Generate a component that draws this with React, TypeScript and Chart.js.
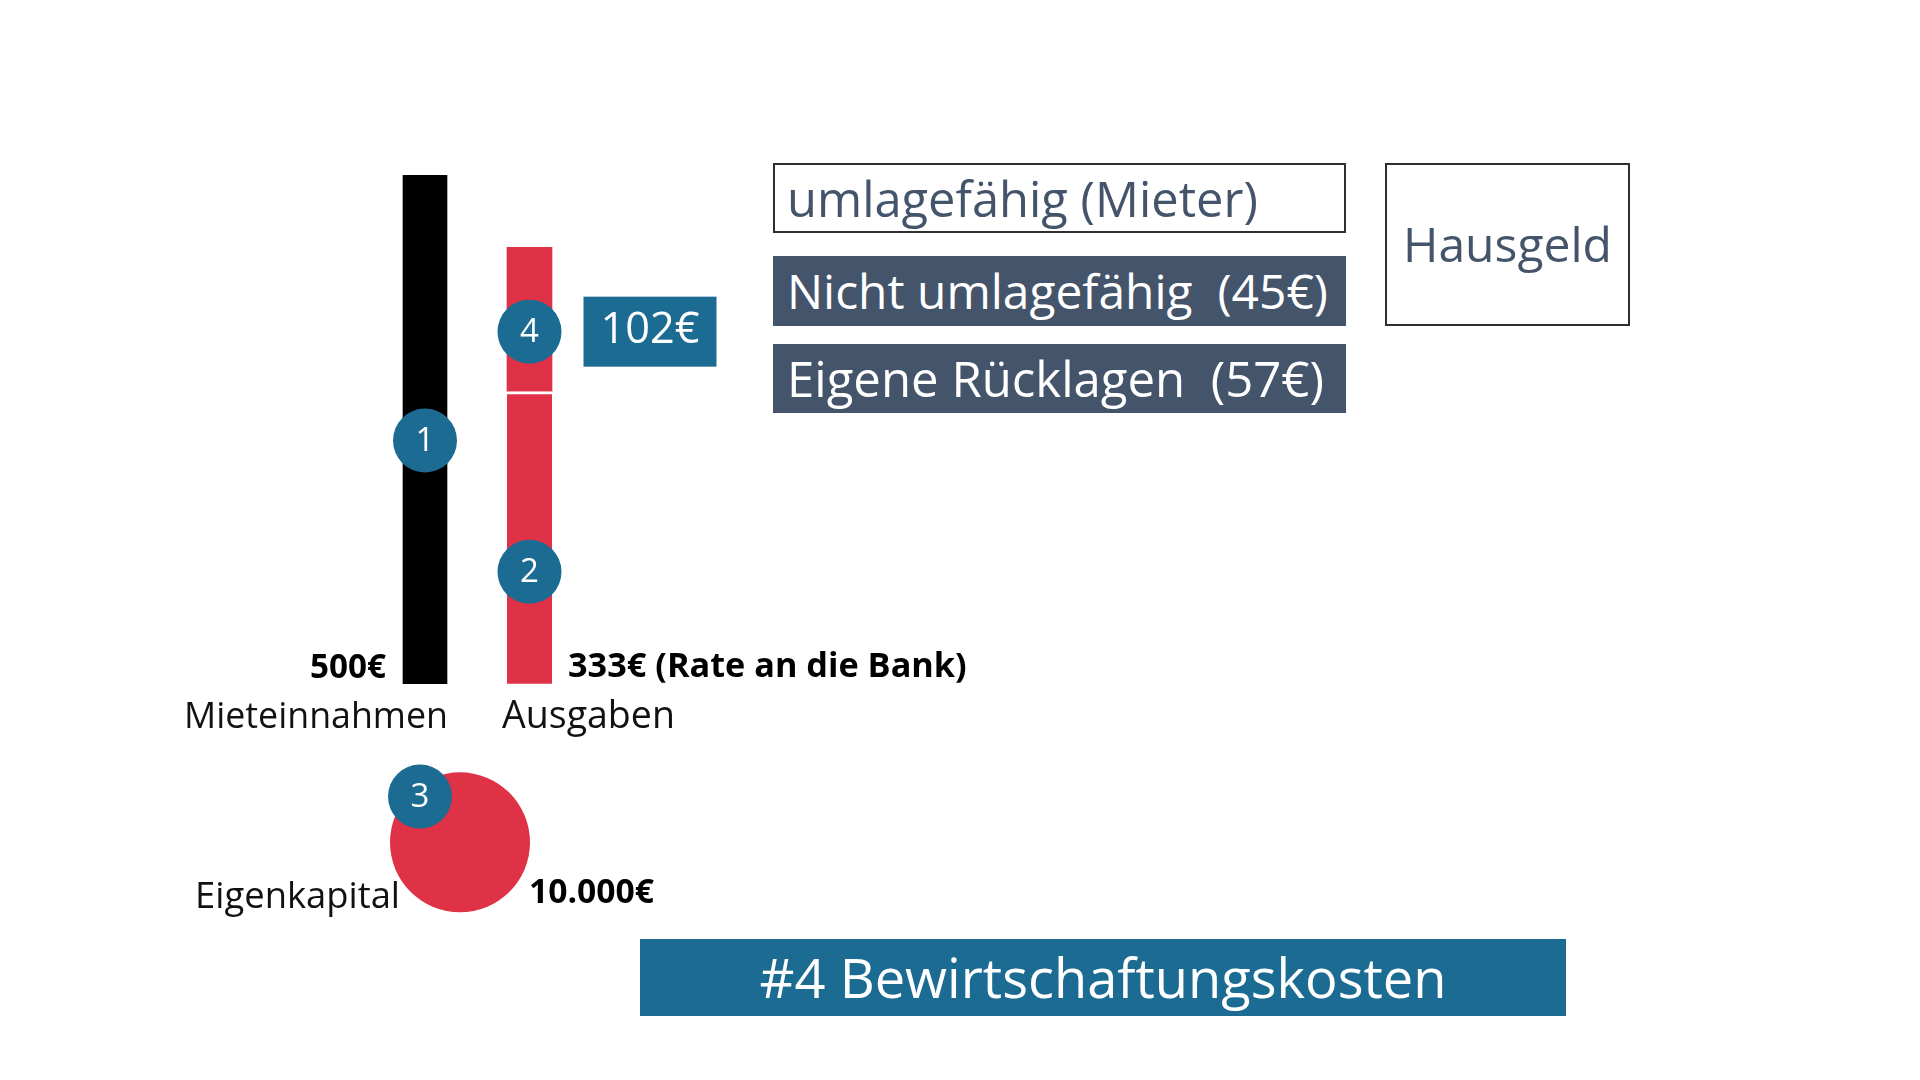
import React, { useEffect, useRef } from "react";
import { Chart, registerables } from "chart.js";

Chart.register(...registerables);

// ---------- data ----------
const categories = ["Mieteinnahmen", "Ausgaben"];
const categoryX = [1, 2];
const incomeValues = [500];
const expenseRateValues = [287];
const expenseHausgeldValues = [142];
const incomeLabel = "500€";
const expenseLabel = "333€ (Rate an die Bank)";
const hausgeldValueLabel = "102€";
const equityLabel = "Eigenkapital";
const equityValueLabel = "10.000€";
const equityPoints = [{ x: 1.335, y: -156 }];
const markerNumbers = ["1", "2", "3", "4"];
const markerPoints = [
  { x: 1, y: 239 },
  { x: 2, y: 110 },
  { x: 0.952, y: -111 },
  { x: 2, y: 346 },
];
const hausgeldItems = ["umlagefähig (Mieter)", "Nicht umlagefähig  (45€)", "Eigene Rücklagen  (57€)"];
const hausgeldTitle = "Hausgeld";
const slideTitle = "#4 Bewirtschaftungskosten";

// ---------- styles ----------
const FONT = '"Open Sans", sans-serif';
const RED = "#df3246";
const BLUE = "#1c6b93";
const SLATE = "#44546a";

let measureCtx: CanvasRenderingContext2D | null = null;
function fitSize(text: string, weight: number, target: number): number {
  if (!measureCtx) measureCtx = document.createElement("canvas").getContext("2d");
  const ctx = measureCtx!;
  ctx.font = `${weight} 100px ${FONT}`;
  const w = ctx.measureText(text).width;
  return (100 * target) / w;
}

function drawFit(
  ctx: CanvasRenderingContext2D,
  text: string,
  x: number,
  y: number,
  target: number,
  weight: number,
  align: CanvasTextAlign,
  color: string
) {
  const size = fitSize(text, weight, target);
  ctx.font = `${weight} ${size}px ${FONT}`;
  ctx.fillStyle = color;
  ctx.textAlign = align;
  ctx.textBaseline = "middle";
  ctx.fillText(text, x, y);
}

const labelPlugin = {
  id: "slideLabels",
  afterDatasetsDraw(chart: any) {
    const ctx: CanvasRenderingContext2D = chart.ctx;
    ctx.save();
    const markerMeta = chart.getDatasetMeta(0);
    const equityMeta = chart.getDatasetMeta(1);
    const incomeBar = chart.getDatasetMeta(2).data[0];
    const rateBar = chart.getDatasetMeta(3).data[0];

    // marker numbers
    markerMeta.data.forEach((pt: any, i: number) => {
      ctx.font = `400 33px ${FONT}`;
      ctx.fillStyle = "#ffffff";
      ctx.textAlign = "center";
      ctx.textBaseline = "middle";
      ctx.fillText(markerNumbers[i], pt.x, pt.y + 1);
    });

    // bar value labels
    const incLeft = incomeBar.x - incomeBar.width / 2;
    const incRight = incomeBar.x + incomeBar.width / 2;
    const rateLeft = rateBar.x - rateBar.width / 2;
    const rateRight = rateBar.x + rateBar.width / 2;
    drawFit(ctx, incomeLabel, incLeft - 17, incomeBar.base - 15, 76, 700, "right", "#000");
    drawFit(ctx, expenseLabel, rateRight + 16, rateBar.base - 16, 399, 700, "left", "#000");
    // category labels
    drawFit(ctx, categories[0], incRight + 1, incomeBar.base + 34, 264, 400, "right", "#111");
    drawFit(ctx, categories[1], rateLeft - 5, incomeBar.base + 34, 173, 400, "left", "#111");

    // 102€ box next to marker 4
    const m4 = markerMeta.data[3];
    const bx = m4.x + 54;
    const by = m4.y - 35;
    ctx.fillStyle = BLUE;
    ctx.fillRect(bx, by, 133, 70);
    drawFit(ctx, hausgeldValueLabel, bx + 66.5, by + 34, 99, 400, "center", "#fff");

    // equity labels
    const eq = equityMeta.data[0];
    drawFit(ctx, equityLabel, eq.x - 60, eq.y + 55, 205, 400, "right", "#111");
    drawFit(ctx, equityValueLabel, eq.x + 69, eq.y + 51, 125, 700, "left", "#000");
    ctx.restore();
  },
};

export default function App() {
  const ref = useRef<HTMLCanvasElement>(null);

  useEffect(() => {
    const chart = new Chart(ref.current as HTMLCanvasElement, {
      type: "bar",
      data: {
        datasets: [
          {
            type: "bubble",
            label: "Schritte",
            data: markerPoints,
            backgroundColor: BLUE,
            borderWidth: 0,
            radius: 32,
            hoverRadius: 0,
            clip: false,
            order: 0,
          } as any,
          {
            type: "bubble",
            label: equityLabel,
            data: equityPoints,
            backgroundColor: RED,
            borderWidth: 0,
            radius: 70,
            hoverRadius: 0,
            clip: false,
            order: 1,
          } as any,
          {
            type: "bar",
            label: categories[0],
            data: [{ x: categoryX[0], y: incomeValues[0] }],
            backgroundColor: "#000000",
            barThickness: 44,
            grouped: false,
            stack: "income",
            order: 2,
          } as any,
          {
            type: "bar",
            label: "Rate an die Bank",
            data: [{ x: categoryX[1], y: expenseRateValues[0] }],
            backgroundColor: RED,
            borderColor: "#ffffff",
            borderWidth: { top: 3, left: 0, right: 0, bottom: 0 },
            borderSkipped: false,
            barThickness: 45,
            grouped: false,
            stack: "expense",
            order: 2,
          } as any,
          {
            type: "bar",
            label: "Hausgeld",
            data: [{ x: categoryX[1], y: expenseHausgeldValues[0] }],
            backgroundColor: RED,
            barThickness: 45,
            grouped: false,
            stack: "expense",
            order: 2,
          } as any,
        ],
      },
      options: {
        responsive: false,
        animation: false,
        events: [],
        layout: { padding: { left: 372.75, right: 1338.25, top: 175, bottom: 142 } },
        plugins: { legend: { display: false }, tooltip: { enabled: false }, title: { display: false } },
        scales: {
          x: { type: "linear", min: 0.5, max: 2.5, offset: false, display: false, stacked: true },
          y: { type: "linear", min: -250, max: 500, display: false, stacked: true },
        },
      } as any,
      plugins: [labelPlugin],
    });
    return () => chart.destroy();
  }, []);

  const boxTops = [163, 256, 344];
  const boxHeights = [70, 70, 69];
  const itemTargets = [471, 541, 537];

  return (
    <div
      style={{
        position: "fixed",
        left: 0,
        top: 0,
        width: 1920,
        height: 1080,
        background: "#ffffff",
        overflow: "hidden",
        fontFamily: FONT,
      }}
    >
      <canvas
        ref={ref}
        width={1920}
        height={1080}
        style={{ position: "absolute", left: 0, top: 0, width: 1920, height: 1080 }}
      />
      {hausgeldItems.map((t, i) => (
        <div
          key={t}
          style={{
            position: "absolute",
            left: 773,
            top: boxTops[i],
            width: 573,
            height: boxHeights[i],
            boxSizing: "border-box",
            border: i === 0 ? "2px solid #2f2f2f" : "none",
            background: i === 0 ? "#ffffff" : SLATE,
            color: i === 0 ? SLATE : "#ffffff",
            display: "flex",
            alignItems: "center",
            paddingLeft: i === 0 ? 12 : 14,
            whiteSpace: "pre",
            fontSize: fitSize(t, 400, itemTargets[i]),
            lineHeight: 1,
          }}
        >
          {t}
        </div>
      ))}
      <div
        style={{
          position: "absolute",
          left: 1385,
          top: 163,
          width: 245,
          height: 163,
          boxSizing: "border-box",
          border: "2px solid #2f2f2f",
          color: SLATE,
          display: "flex",
          alignItems: "center",
          justifyContent: "center",
          fontSize: fitSize(hausgeldTitle, 400, 209),
          lineHeight: 1,
        }}
      >
        {hausgeldTitle}
      </div>
      <div
        style={{
          position: "absolute",
          left: 640,
          top: 939,
          width: 926,
          height: 77,
          background: BLUE,
          color: "#ffffff",
          display: "flex",
          alignItems: "center",
          justifyContent: "center",
          fontSize: fitSize(slideTitle, 400, 687),
          lineHeight: 1,
        }}
      >
        {slideTitle}
      </div>
    </div>
  );
}
